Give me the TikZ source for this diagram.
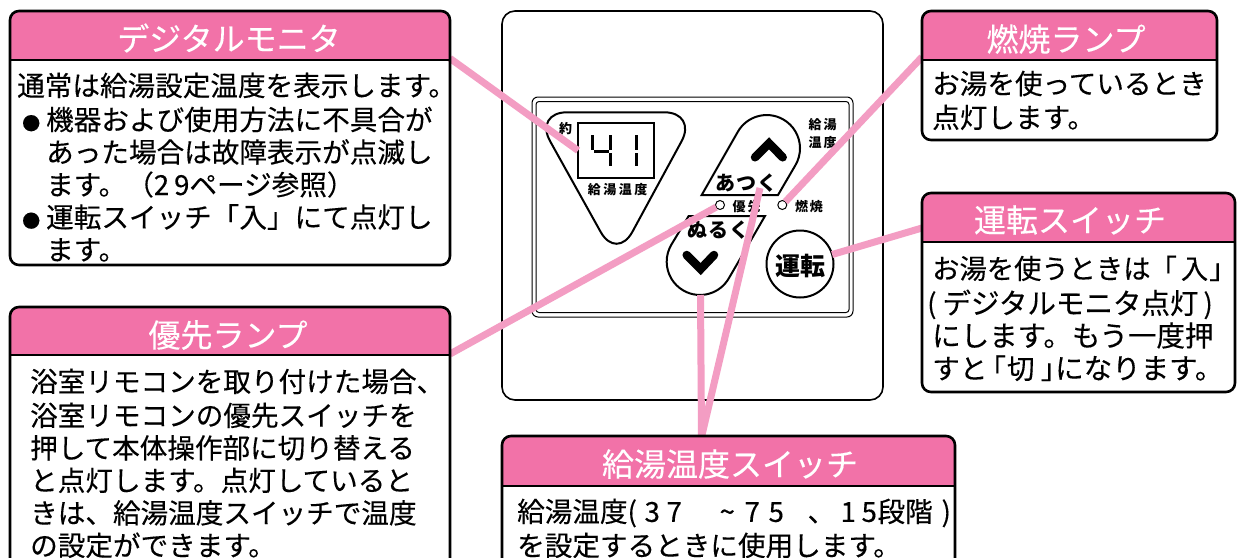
\documentclass[tikz,border=0pt]{standalone}
\usepackage{fontspec}
\setmainfont[FakeBold=0.25,BoldFeatures={FakeBold=0}]{Noto Sans CJK JP}
\definecolor{headpink}{HTML}{F272A8}
\definecolor{leader}{HTML}{F39DC3}
\tikzset{
  x=1pt,y=-1pt,
  panelbox/.style={draw=black,line width=2.6pt,rounded corners=9pt,inner sep=0pt,outer sep=0pt},
  panelhead/.style={fill=headpink},
  titletext/.style={text=white,font=\fontsize{32}{34}\selectfont,inner sep=0pt},
  bodytext/.style={anchor=north west,inner sep=0pt,align=left,font=\fontsize{27.6}{32.5}\selectfont},
  leaderline/.style={draw=leader,line width=7pt},
  device/.style={draw=black,line width=1.6pt},
  keyline/.style={draw=black,line width=2pt,fill=white},
  chevron/.style={draw=black,line width=8.5pt,line cap=round},
  segment/.style={draw=black,line width=3pt},
  small/.style={inner sep=0pt,font=\fontsize{13}{15}\bfseries\selectfont},
  keylabel/.style={inner sep=0pt,font=\fontsize{20}{22}\bfseries\selectfont},
  lamp/.style={circle,draw=black,line width=1pt,fill=white,minimum size=9pt,inner sep=0pt,outer sep=0pt},
}
\newcommand\panel[6]{%
  \pgfmathsetmacro\pw{#4-#2}\pgfmathsetmacro\ph{#5-#3}%
  \pgfmathsetmacro\pcx{(#4+#2)/2}\pgfmathsetmacro\pcy{(#5+#3)/2}%
  \fill[panelhead] (#2,#6) [rounded corners=9pt] -- (#2,#3) -- (#4,#3) [sharp corners] -- (#4,#6) -- cycle;
  \node[panelbox,minimum width=\pw pt,minimum height=\ph pt] (#1) at (\pcx,\pcy) {};
  \draw[line width=2.6pt] (#2,#6) -- (#4,#6);
}
\newcommand\posat[2]{\rlap{\hspace*{#1pt}#2}}
\newcommand\bul{\makebox[0pt][l]{\hspace*{-24pt}\fontsize{18}{18}\selectfont ●}}
\newcommand\widerfont{\fontsize{28.5}{32.5}\selectfont}
\newcommand\slimfont{\fontsize{27.3}{32.5}\selectfont}
\begin{document}
\begin{tikzpicture}
\clip (0,0) rectangle (1242,557);
\fill[white] (0,0) rectangle (1242,557);

% device body
\node[device,rounded corners=13pt,minimum width=381pt,minimum height=389pt,inner sep=0pt,outer sep=0pt] (body) at (692.5,205.5) {};
\node[device,line width=1pt,rounded corners=6pt,minimum width=321pt,minimum height=220pt,inner sep=0pt,outer sep=0pt] (frameout) at (692.5,207) {};
\node[device,line width=1pt,rounded corners=3pt,minimum width=313pt,minimum height=211pt,inner sep=0pt,outer sep=0pt] (framein) at (692.5,207) {};

% monitor
\draw[keyline,rounded corners=33pt] (534,112.3) -- (697.3,112.3) -- (616.7,260.7) -- cycle;
\node[draw=black,line width=2pt,minimum width=76pt,minimum height=55pt,inner sep=0pt,outer sep=0pt] (lcd) at (616,150.5) {};
\draw[segment] (592.7,135) -- (592.7,150);
\draw[segment] (594,151.5) -- (609,151.5);
\draw[segment] (610.5,135) -- (610.5,149.5);
\draw[segment] (610.5,153) -- (610.5,166);
\draw[segment] (636.7,135) -- (636.7,149.5);
\draw[segment] (636.7,153) -- (636.7,166);
\node[small] (yaku) at (565.7,128.5) {約};
\node[small] (montext) at (617.7,190) {給\hspace{2.5pt}湯\hspace{2.5pt}温\hspace{2.5pt}度};

% temperature keys
\draw[keyline] (701.7,195) -- (737.7,132) arc[start angle=150.6,end angle=-31.5,radius=33.3pt] -- (778,195) -- cycle;
\draw[keyline] (765,216) -- (729,278) arc[start angle=-29.4,end angle=-211.5,radius=33.3pt] -- (688.7,216) -- cycle;
\draw[chevron] (755,157.3) -- (769,143.3) -- (782.7,157.3);
\draw[chevron] (686.7,255) -- (700.7,269) -- (714,255);
\node[keylabel] (hot) at (746.7,183) {あ\hspace{1pt}つ\hspace{1pt}く};
\node[keylabel] (cool) at (718.3,230) {ぬ\hspace{1pt}る\hspace{1pt}く};

% lamps and labels
\node[lamp] (prilamp) at (720,205) {};
\node[lamp] (burnlamp) at (782.3,205) {};
\node[small] (pritext) at (746.7,207) {優\hspace{2pt}先};
\node[small] (burntext) at (809,206.5) {燃\hspace{2pt}焼};
\node[small] (keytop) at (822.7,125) {給\hspace{2pt}湯};
\node[small] (keybot) at (822.7,142.5) {温\hspace{2pt}度};

% run key
\node[circle,keyline,minimum size=67pt,inner sep=0pt,outer sep=0pt] (runkey) at (800,264) {};
\node[inner sep=0pt,font=\fontsize{25}{27}\bfseries\selectfont] (runtext) at (800,266) {運転};

% connector ends
\coordinate (monend) at (450,58.4);
\coordinate (priend) at (450,354);
\coordinate (burnend) at (922,57);
\coordinate (runend) at (922,228);
\coordinate (tempend) at (701.5,437);
\coordinate (upend) at (760,188);
\coordinate (downend) at (700.5,295);

\draw[leaderline] (monend) -- (lcd.west);
\draw[leaderline] (priend) -- (prilamp);
\draw[leaderline] (burnend) -- (burnlamp);
\draw[leaderline] (runend) -- (runkey);
\draw[leaderline] (tempend) -- (upend);
\draw[leaderline] (tempend) -- (downend);

% panels
\panel{monpanel}{10}{11}{450}{265}{60}
\node[titletext] (montitle) at (229,38) {デジタルモニタ};
\node[bodytext] (monbody) at (17,72.5) {\strut 通常は給湯設定温度を表示します。\\
\hspace*{29pt}\bul 機器および使用方法に不具合が\\
\hspace*{29pt}あった場合は故障表示が点滅し\\
\hspace*{29pt}ます。（2\hspace{5pt}9ページ参照）\\
\hspace*{29pt}\bul 運転スイッチ「入」にて点灯し\\
\hspace*{29pt}ます。};

\panel{pripanel}{10}{307}{450}{590}{355}
\node[titletext] (prititle) at (228,335) {優先ランプ};
\node[bodytext] (pribody) at (30,368.5) {\strut 浴室リモコンを取り付けた場合、\\
浴室リモコンの優先スイッチを\\
押して本体操作部に切り替える\\
と点灯します。点灯していると\\
きは、給湯温度スイッチで温度\\
の設定ができます。};

\panel{burnpanel}{922}{11}{1217}{140}{60}
\node[titletext] (burntitle) at (1066,39) {燃焼ランプ};
\node[bodytext] (burnbody) at (932,70.5) {\strut お湯を使っているとき\\点灯します。};

\panel{runpanel}{922}{193}{1235}{392}{242}
\node[titletext] (runtitle) at (1070,220) {運転スイッチ};
\node[bodytext] (runbody) at (927,255.5) {\strut\hspace*{5pt}{\slimfont お湯を使うときは}\hspace{-1pt}{\slimfont 「\hspace{4pt}入\hspace{1pt}」}\\
(\hspace{6pt}{\widerfont デジタルモニタ点灯}\hspace{5pt})\\
\hspace*{5pt}{\widerfont にします。もう一度押}\\
\hspace*{5pt}すと\hspace{-9pt}「\hspace{1pt}切\hspace{6pt}」\hspace{-13pt}{\widerfont になります。}};

\panel{temppanel}{502}{436}{955}{590}{486}
\node[titletext] (temptitle) at (730,464) {給湯温度スイッチ};
\node[bodytext] (tempbody) at (517,498.5) {\strut 給湯温度\posat{0}{(}\posat{17}{3}\posat{39}{7}\posat{92}{\textasciitilde}\posat{117}{7}\posat{141}{5}\posat{180}{、}\posat{213}{1}\posat{234}{5}\posat{250}{段階}\posat{314}{)}\\
を設定するときに使用します。};
\end{tikzpicture}
\end{document}
